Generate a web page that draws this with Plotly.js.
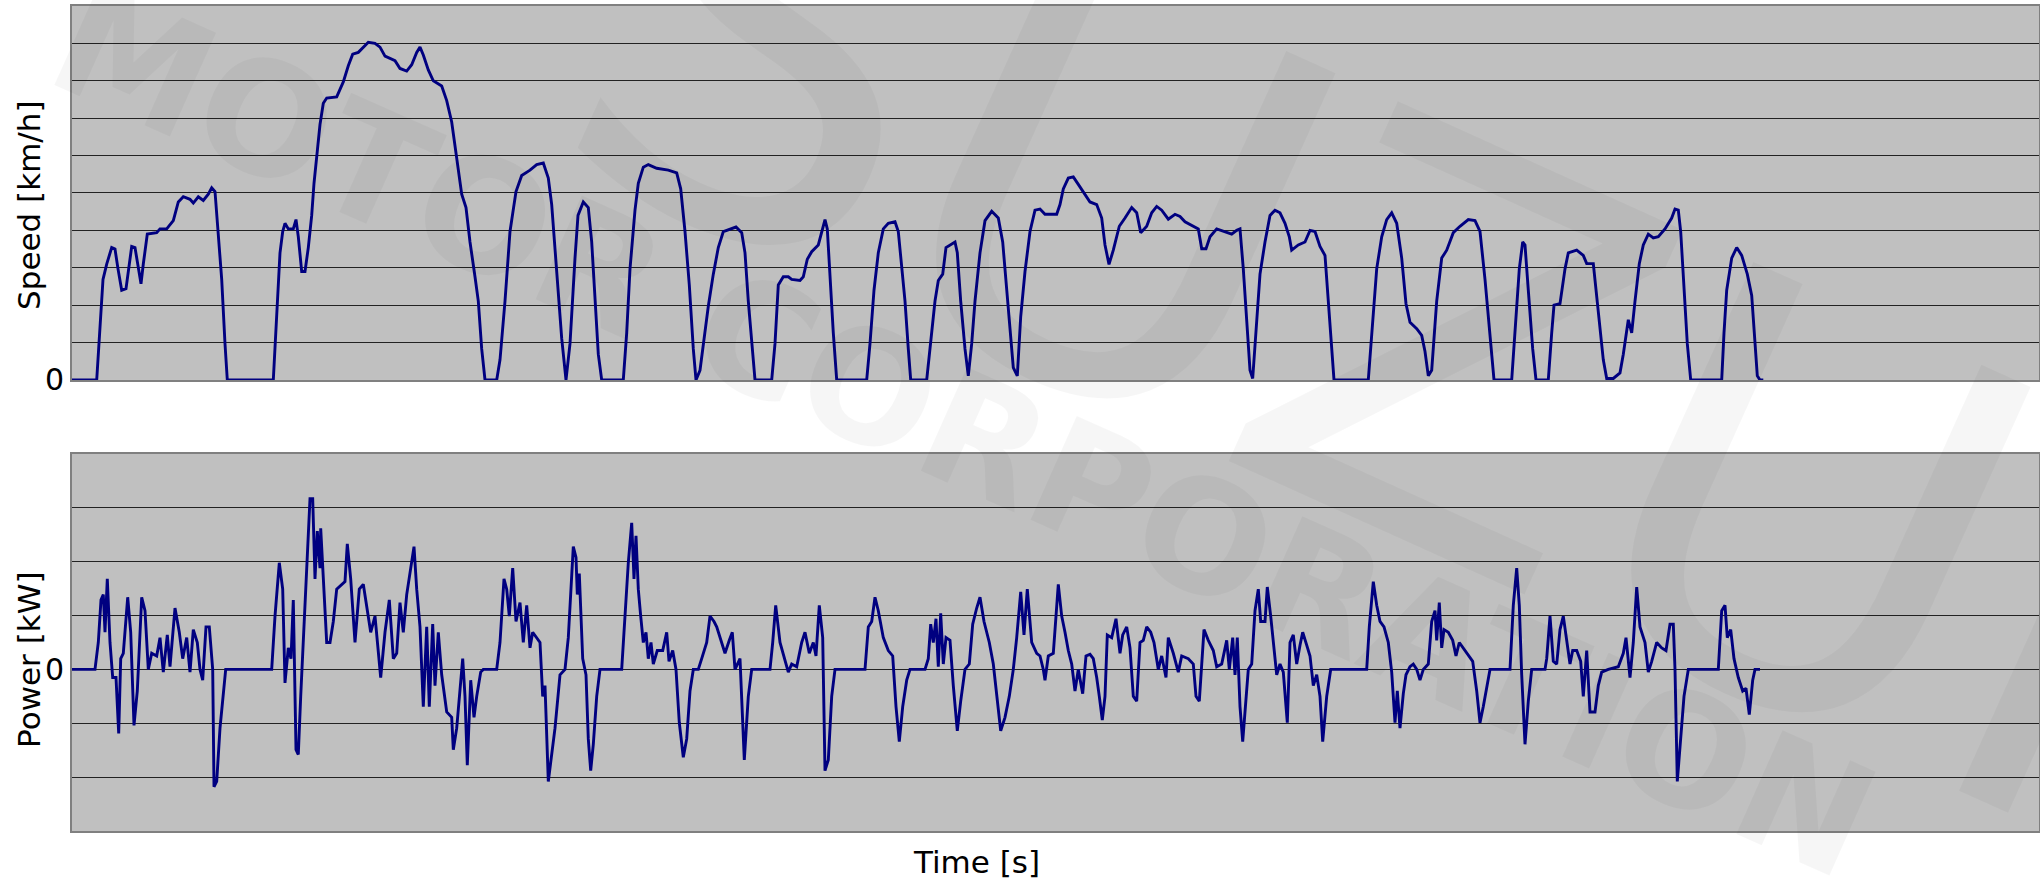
<!DOCTYPE html>
<html>
<head>
<meta charset="utf-8">
<script src="https://cdn.plot.ly/plotly-3.0.1.min.js"></script>
<style>html,body{margin:0;padding:0;background:#fff;}#chart{width:2040px;height:881px;}</style>
</head>
<body>
<div id="chart"></div>
<script>
// ---- Data ----
const speedTime = [0,24.7,31,34.7,39.7,43,46,49.7,54,57,59.7,63,66.3,69,71.3,75.3,84.7,88,94.7,101.3,106.3,111.3,118,121.3,126.3,131.3,136.3,139.7,143,146.3,149.7,153,155.3,201.3,204.7,208,210.7,213,216.3,221.3,224,226.3,229.7,233,236.3,239.7,242,244.7,248,251.3,254.7,264.7,271.3,276.3,280.7,286.3,291.3,296.3,303,308,313,318,323,328,334.7,339.7,344.7,348,351.3,356.3,361.3,369.7,374.7,379.7,384.7,389.7,394,398,403,406.3,409.7,413,424.7,428,433,438,444,449.7,458,464.7,471.3,476.3,479.7,484.7,489.7,494,498,503,506,511.3,516.3,519.7,523,526.3,529.7,551.3,554.7,558,563,566.3,571.3,576.3,584.7,596.3,604.7,608.7,613,617.3,621.3,624,628,631.3,636.3,641.3,646.3,651.3,658,664,669.7,673,676.3,680.7,683,699.7,703,706.3,711.3,716.3,719.7,728,731.3,735.3,739.7,746.3,750.3,753,755.3,758,761.3,764.7,794.7,798,802,806.3,811.3,816.3,823,826.3,829.7,833,836.3,838.7,854.7,858,863,866.3,870.7,874,878,883,885.3,888.7,893,896.3,899.7,903,908,913,919.7,926.3,930.7,934.7,938.7,941.3,945.3,948.7,953,958,963,968,973,984.7,988,991.3,996.3,1001.3,1006.3,1013,1018,1024.7,1029.7,1033,1037,1041.3,1047.3,1053,1059.7,1064.7,1068.7,1074.7,1079.7,1084.7,1089.7,1096.3,1103,1108,1113,1126.3,1129.7,1134,1138,1144.7,1154.7,1159.7,1164.7,1168,1171.3,1174.7,1178,1180.7,1184,1188,1193,1198,1203,1208,1213,1217.3,1219.7,1226.3,1233,1238,1243,1248,1253,1256.3,1259.7,1262,1296.3,1299.7,1304.7,1309.7,1314.7,1319.7,1324.7,1329.7,1334,1338,1344.7,1349.7,1353,1356.3,1359.7,1364.7,1369.7,1374.7,1381.3,1388,1396.3,1403,1408,1413,1418,1422,1439.7,1443,1447.3,1450.7,1453,1456.3,1460.7,1464,1476.3,1479.7,1482,1488,1493,1496.3,1504.7,1511.3,1514.7,1521.3,1524.7,1528,1531.3,1534.7,1541.3,1548,1551.3,1556.3,1559.7,1563,1567.3,1571.3,1576.3,1581.3,1586.3,1593,1599.7,1603,1606.3,1608.7,1612,1615.3,1618.7,1649.7,1652,1654.7,1659.7,1664.7,1669.7,1675.3,1679.7,1683,1685.3,1688,1691.3];
const speedKmh = [0,0,26.9,31,35.4,35,29.7,24,24.4,31,35.7,35.4,29.7,25.7,31,39,39.4,40.4,40.4,42.6,47.6,49,48.3,47.3,49,48,49.7,51.4,50.4,39.7,26.9,9.7,0,0,18.3,34,39.7,41.9,40.4,40.4,42.9,38.3,29,29,35.4,44,52.6,59.7,68.3,74,75.4,75.7,79.7,84,87.1,87.6,89,90.3,90,89,86.6,86.1,85.4,83.3,82.6,84.3,87.6,89,86.9,82.9,80,78.6,74.7,69,59.7,49.7,46.1,36.9,27.6,21.1,8.3,0,0,5.4,21.1,39.7,50.4,54.7,56.1,57.6,58,54,46.9,29.7,11.1,0,9.7,32.6,44,47.6,46.1,36.9,21.1,6.9,0,0,12.6,29.7,45.4,52.6,56.9,57.6,56.6,56.1,55.4,51.1,39.7,25.4,8.3,0,2.6,9.7,19.7,28.3,35.4,39.7,40.4,40.9,39.4,34,21.1,6.9,0,0,9.7,25.4,27.6,27.6,26.9,26.6,27.6,32.3,34.3,36.1,40.4,42.9,40.4,26.9,12.6,0,0,9.7,24,34,40.4,41.9,42.3,39.7,31.1,21.1,8.3,0,0,8.3,21.1,26.6,28.3,35.4,36.1,36.9,34,21.1,8.3,1.1,9.7,21.1,34,42.6,45.1,43.3,36.9,24,12.6,3.3,1.1,16.9,29,39.7,45.4,45.7,44.3,44.3,46.9,51.1,54,54.3,52.3,49.7,47.6,46.9,43.3,36.1,30.9,34.7,41.1,43.3,46.1,44.7,39.4,41.1,44.7,46.4,45.4,43,44.3,43.7,42.3,40.4,35.1,35.1,38.3,40.4,39.4,39,40,40.4,29.7,15.4,2.6,0.4,12.6,28.3,36.9,44,45.4,44.7,41.9,38.3,34.7,36.1,36.9,40,39.7,35.7,33.3,21.1,8.3,0,0,12.6,29.7,38.3,42.9,44.7,41.9,32.6,20.4,15.4,13.7,11.9,7.6,1.1,2.6,21.1,32.6,34.7,39.4,41.1,42.9,42.6,39.7,26.9,12.6,0,0,12.6,29.7,36.9,36.1,24,8.3,0,0,12.6,20,20.4,29.7,34,34.7,33.3,31.1,31.1,22.6,12.6,5.4,0.4,0.4,1.9,6.9,16.1,12.6,21.1,31.1,36.1,39,38,38.3,40.4,43.3,45.7,45.4,39.7,24,9.7,0,0,12.6,24,32.6,35.4,33.3,28.3,22.6,11.1,1.1,0,0];

const powerTime = [0,23,26.3,29,31.3,33,35.3,38,40.7,44,46.7,48.7,51.3,55.7,58.7,62,65.3,69.7,73,76.3,79.7,84.7,88,91.3,95.3,98,103,107.3,110.7,114.7,118,121.3,125.3,128,130.7,134,137.3,140.7,142,144.7,148,151.3,153.7,199.7,203,207.3,210.7,213,216.3,219,221.3,224,226.3,228.7,231.3,234.7,238,240.7,243,245.3,248,248.7,251.3,254.7,258,261.3,264.7,269.7,273,275.3,278.7,283,287.3,291.3,294.7,298.7,303,308.7,313,317.3,321.3,324.7,328,331.3,334.7,338,342,344.7,348,351.3,354.7,357.3,360.7,363,366.3,369.7,374.7,379.7,381.3,384.7,388,390.7,393,395.3,398.7,402,404.7,408.7,411.3,424.7,428,432,434.7,437.3,440.7,444,448,451.3,454.7,458,460.7,464.7,468,470.7,473,476.3,479.7,483,488,493,496.3,501.3,504,505.3,507.3,510.7,514,516.3,518.7,521.3,524.7,528,549.7,553,556.3,559.7,562,564,566.3,568.7,571.3,574,576.3,579,581.3,585.3,590.7,594.7,597,600.7,604,607.3,611.3,614.7,618,621.3,626.3,629.7,634.7,638,642,644.7,649.7,653,657.3,660.3,663,668,672.3,676.3,679.7,698,700.7,703.7,708,711.3,716.3,719.7,724.7,729.7,733,737.3,741.3,744,747.3,750.7,753,756.3,759.7,763,793,796.3,799.7,803,806.3,811.3,816.3,820.7,824,827.3,830.7,834.7,838,853,856.3,858.7,861.3,864,866.3,868.7,871.3,874,878,881.3,885.3,888.7,893,897.3,900.7,904.7,908,912,917.3,921.3,924.7,928.7,933,937.3,941.3,944.7,948.7,952,955.3,959.7,964.7,968,971.3,973,976.3,981.3,986.3,989.7,993,996.3,999.7,1003,1006.3,1010.7,1014,1018,1021.3,1024.7,1027.3,1030.3,1033,1035.3,1039.7,1044,1048,1050.7,1054.7,1058,1061.3,1064.7,1068,1071.3,1074.7,1078.7,1082,1086.3,1089.7,1094,1096.3,1101.3,1106.3,1109.7,1116.3,1121.3,1124,1127.3,1132,1136.3,1141.3,1144.7,1149.7,1154.7,1157.3,1160.7,1163,1165.3,1168,1170.7,1173,1176.3,1179.7,1183,1186.3,1188.7,1193,1195.3,1198.7,1202,1204.7,1208,1211.3,1215.3,1218,1221.3,1224.7,1228,1230.7,1234.7,1238,1241.3,1244.7,1248,1250.7,1254.7,1258.7,1294.7,1297.3,1301.3,1304.7,1308,1312,1316.3,1319.7,1323,1325.3,1328,1331.3,1334,1338,1341.3,1344.7,1348,1351.3,1356.3,1359.7,1363,1364.7,1367.3,1369.7,1372,1376.3,1380.7,1384,1387.3,1391.3,1395.3,1400.7,1404.7,1408,1411.3,1414.7,1418,1438,1441.3,1444.7,1447.3,1449.7,1453,1456.3,1459.7,1473,1474.7,1478,1481.3,1484.7,1488,1491.3,1494.7,1498,1500.7,1504.7,1508.7,1511.3,1514.7,1518,1523,1526.3,1529.7,1536.3,1546.3,1551.3,1554,1558,1561.3,1564.7,1568,1573,1576.3,1579.7,1584.7,1589.7,1594,1598,1601.3,1603,1605.3,1608.7,1612,1616.3,1646.3,1649.7,1653,1655.3,1658.7,1662,1666.3,1670.7,1674,1677.3,1680.7,1683,1688];
const powerKw = [0,0,5,12.9,13.9,6.9,16.8,5,-1.5,-1.5,-11.9,2,3,13.4,6.9,-10.4,-4,13.4,10.9,0,3,2.5,5.9,-0.5,6.4,0.5,11.4,6.9,2,5.9,-0.5,7.4,5,0,-2,7.9,7.9,0,-21.8,-20.8,-10.9,-4,0,0,9.9,19.8,14.9,-2.5,4,2,12.9,-14.9,-15.8,-5,5,16.8,31.7,31.7,16.8,25.7,18.8,26.2,17.8,5,5,8.9,14.9,15.8,16.3,23.3,16.8,5,14.9,15.8,11.9,6.9,9.9,-1.5,6.9,12.9,2,3,12.4,6.9,13.9,17.8,22.8,14.9,7.9,-6.9,7.9,-6.9,8.4,-3,6.9,-1,-7.9,-8.9,-14.9,-10.9,-3,2,-5,-17.8,-2,-8.9,-5,-0.5,0,0,5,16.8,14.9,9.9,18.8,8.9,12.4,5,11.9,4,6.9,5.9,5,-5,-3,-20.8,-15.8,-10.9,-1,0,5.9,22.8,20.8,13.9,17.8,2,-1,-12.9,-18.8,-13.9,-5,0,0,9.9,19.8,27.2,16.8,24.8,14.9,9.9,5,6.9,2,5,1,3.5,3.5,6.9,1.5,3.5,0,-9.9,-16.3,-12.9,-4,0,0,2,5,9.9,8.9,7.9,5,3,5.4,6.9,0,2,-16.8,-5,0,0,5,11.9,5,3,-0.5,1,0.5,5,6.9,3,5,2.5,11.9,5.9,-18.8,-16.8,-5,0,0,7.9,8.9,13.4,10.9,5.9,3.5,2.5,-6.9,-13.4,-6.9,-2,0,0,2,8.4,5,9.4,0.5,10.4,1,5.9,5.4,-3,-11.4,-5.9,0,1,8.4,11.4,13.4,8.9,5,1,-5,-11.4,-8.9,-5,0,5.9,14.4,6.4,14.9,5,3,2.5,0,-2,2.5,3,15.8,9.9,6.9,3.5,1,-4,0,-4.5,2.5,2.8,2,-1.5,-5,-9.4,-5,6.4,5.9,9.4,3,6.4,7.9,4,-5,-5.9,5,5.4,7.9,6.9,5,0,2.5,-1.5,5.9,3,-0.5,2.5,2,1,-5,-5.9,7.4,5.4,3.5,0.5,1,5.4,0,5.9,-1,5.9,-6.9,-13.4,-7.9,0,1,10.9,14.9,8.9,8.9,15.3,9.9,4,-1,1,-0.5,-9.9,5,6.4,1,4.5,6.9,4.5,2.5,-3,-1,-5,-13.4,-5,0,0,7.9,16.3,11.9,8.9,7.9,5,-0.5,-9.9,-4,-10.9,-4.5,-1,0.5,1,0,-2,0,1,8.9,10.9,5.4,12.4,4,7.4,6.9,5.4,2.5,5,4,3,1.5,-4,-9.9,-6.9,-3,0,0,11.9,18.8,11.9,-1,-13.9,-5.9,0,0,2,9.9,1.5,1,7.4,9.9,5,1,3.5,3.5,1.5,-5,3.5,-7.9,-7.9,-3,-0.5,0,0.5,3,5.9,-1.5,5,15.3,7.9,5,-0.5,1.5,5,4,3.5,8.4,8.4,0,-20.8,-12.9,-5,0,0,10.9,11.9,5.9,7.4,2,-1.5,-4,-3.5,-8.4,-2,0,0];

// Axis tick values (only the zero is labelled; the rest carry gridlines)
const speedTicks = [0,10,20,30,40,50,60,70,80,90];
const speedTickText = ['0','','','','','','','','',''];
const powerTicks = [-20,-10,0,10,20,30];
const powerTickText = ['','','0','','',''];

const FONT = 'DejaVu Sans, Verdana, sans-serif';
const LINE = '#000080';

const traces = [
  {x: speedTime, y: speedKmh, type: 'scatter', mode: 'lines', xaxis: 'x', yaxis: 'y',
   line: {color: LINE, width: 2.9}, hoverinfo: 'skip'},
  {x: powerTime, y: powerKw, type: 'scatter', mode: 'lines', xaxis: 'x2', yaxis: 'y2',
   line: {color: LINE, width: 2.9}, hoverinfo: 'skip'}
];

const xCommon = {range: [0, 1967], showticklabels: false, showgrid: false, zeroline: false,
  showline: true, mirror: true, linecolor: '#808080', linewidth: 2, ticks: '', fixedrange: true};
const yCommon = {showgrid: true, gridcolor: '#222222', gridwidth: 1, zeroline: false,
  showline: true, mirror: true, linecolor: '#808080', linewidth: 2, ticks: '',
  tickfont: {family: FONT, size: 30, color: '#000'}, fixedrange: true};

const wm = 'rgba(0,0,0,0.035)';
const layout = {
  width: 2040, height: 881,
  margin: {l: 72, r: 1, t: 6, b: 50, pad: 0},
  paper_bgcolor: '#ffffff', plot_bgcolor: '#c0c0c0',
  showlegend: false,
  font: {family: FONT, color: '#000'},
  xaxis: Object.assign({}, xCommon, {anchor: 'y', domain: [0, 1]}),
  yaxis: Object.assign({}, yCommon, {anchor: 'x', domain: [0.5467, 1], range: [0, 100],
    tickmode: 'array', tickvals: speedTicks, ticktext: speedTickText}),
  xaxis2: Object.assign({}, xCommon, {anchor: 'y2', domain: [0, 1]}),
  yaxis2: Object.assign({}, yCommon, {anchor: 'x2', domain: [0, 0.457], range: [-30, 40],
    tickmode: 'array', tickvals: powerTicks, ticktext: powerTickText}),
  annotations: [
    {text: 'Speed [km/h]', xref: 'paper', yref: 'paper', x: -0.0219, y: 0.7588,
     xanchor: 'center', yanchor: 'middle', textangle: -90, showarrow: false,
     font: {family: FONT, size: 31, color: '#000'}},
    {text: 'Power [kW]', xref: 'paper', yref: 'paper', x: -0.0219, y: 0.2073,
     xanchor: 'center', yanchor: 'middle', textangle: -90, showarrow: false,
     font: {family: FONT, size: 31, color: '#000'}},
    {text: 'Time [s]', xref: 'paper', yref: 'paper', x: 0.4596, y: -0.0376,
     xanchor: 'center', yanchor: 'middle', showarrow: false,
     font: {family: FONT, size: 31, color: '#000'}},
    // faint watermark
    {text: '<b>MOTOR CORPORATION</b>', xref: 'paper', yref: 'paper', x: 0.4535, y: 0.485,
     xanchor: 'center', yanchor: 'middle', textangle: 24, showarrow: false,
     font: {family: 'DejaVu Sans', size: 156, color: wm}},
    {text: 'SUZUKI', xref: 'paper', yref: 'paper', x: 0.745, y: 0.53,
     xanchor: 'center', yanchor: 'middle', textangle: 24.3, showarrow: false,
     font: {family: 'DejaVu Sans', size: 545, color: wm}}
  ]
};

Plotly.newPlot('chart', traces, layout, {staticPlot: true, displayModeBar: false});
</script>
</body>
</html>
